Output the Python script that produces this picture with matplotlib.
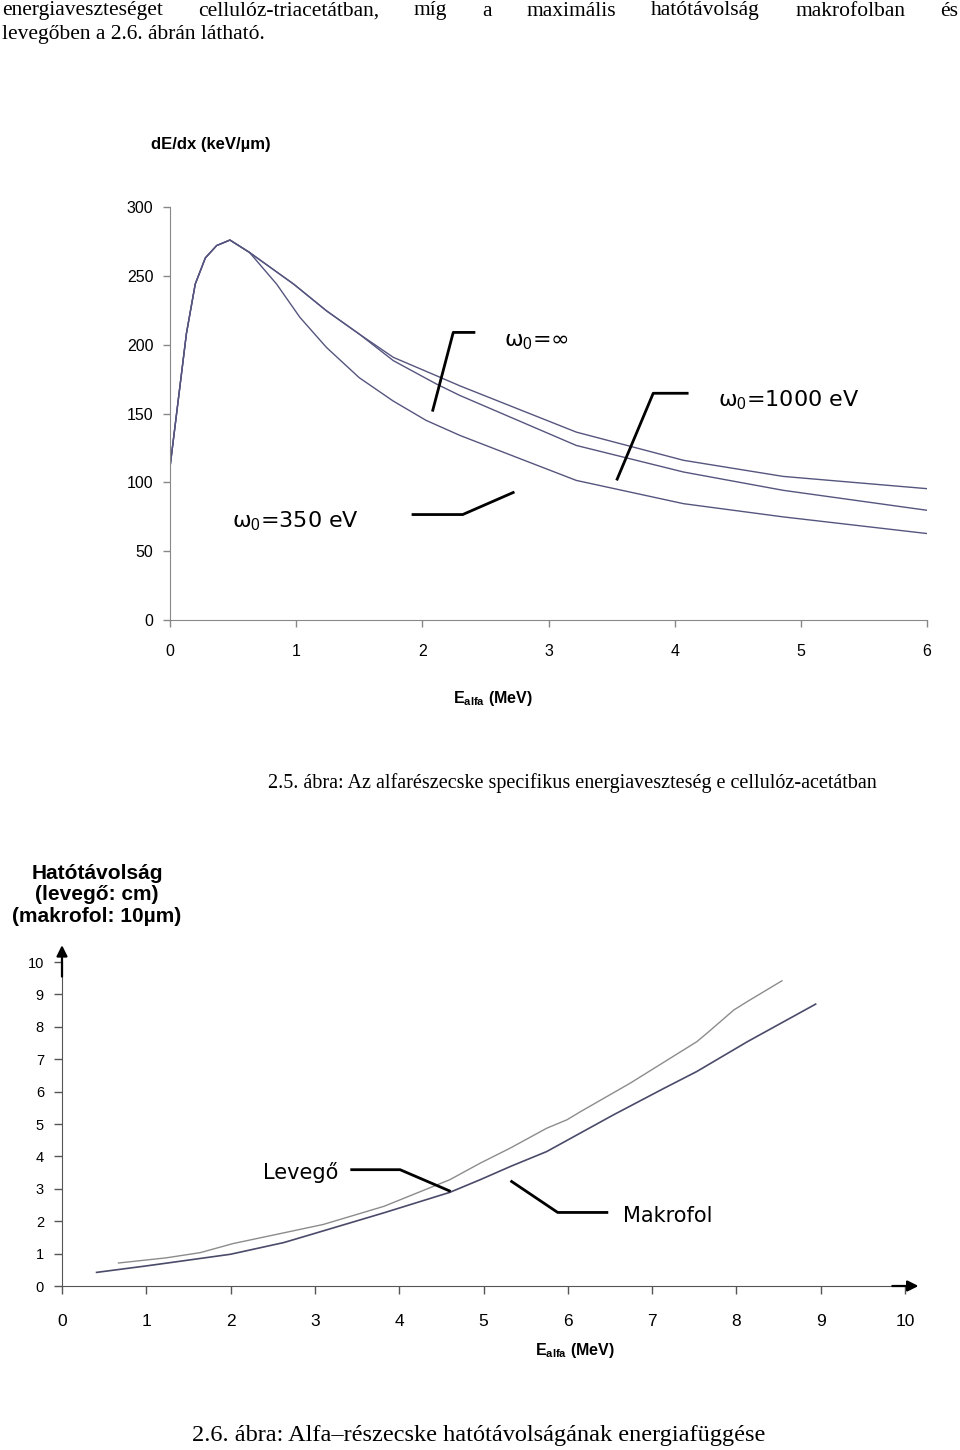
import matplotlib
matplotlib.use('Agg')
import matplotlib.pyplot as plt

plt.rcParams['font.family'] = ['Liberation Sans', 'DejaVu Sans']
plt.rcParams['mathtext.fontset'] = 'custom'
plt.rcParams['mathtext.rm'] = 'Liberation Sans'
plt.rcParams['mathtext.bf'] = 'Liberation Sans:bold'

# --- 2.5. abra: dE/dx (keV/um) vs E_alfa (MeV) ---
e_inf = [0.0, 0.13, 0.2, 0.28, 0.37, 0.475, 0.63, 0.98, 1.24, 1.5, 1.77, 2.11, 2.3, 3.22, 4.07, 4.86, 6.0]
de_inf = [111, 208, 244, 263, 272, 276, 267, 244, 224.6, 207.7, 190.8, 177.5, 170, 136.5, 116, 104.3, 95.4]
e_1000 = [0.0, 0.13, 0.2, 0.28, 0.37, 0.475, 0.63, 0.98, 1.24, 1.5, 1.77, 2.11, 2.3, 3.22, 4.07, 4.86, 6.0]
de_1000 = [111, 208, 244, 263, 272, 276, 267, 244, 224.6, 207.7, 188.4, 171.5, 163, 126.8, 107.5, 94.2, 79.7]
e_350 = [0.0, 0.13, 0.2, 0.28, 0.37, 0.475, 0.63, 0.845, 1.03, 1.24, 1.5, 1.77, 2.03, 2.3, 3.22, 4.07, 4.86, 6.0]
de_350 = [111, 208, 244, 263, 272, 276, 267, 244, 219.8, 198, 176, 159, 145, 134, 101.4, 84.5, 74.9, 62.8]
top_xticks = [0, 1, 2, 3, 4, 5, 6]
top_yticks = [0, 50, 100, 150, 200, 250, 300]

# --- 2.6. abra: hatotavolsag vs E_alfa (MeV) ---
e_levego = [0.67, 1.24, 1.64, 2.03, 2.63, 3.1, 3.82, 4.6, 4.96, 5.32, 5.75, 5.99, 6.15, 6.74, 7.53, 7.65, 7.97, 8.13, 8.54]
r_levego = [0.71, 0.87, 1.03, 1.31, 1.64, 1.9, 2.46, 3.28, 3.79, 4.26, 4.87, 5.13, 5.38, 6.26, 7.54, 7.8, 8.52, 8.78, 9.42]
e_makrofol = [0.41, 1.0, 1.28, 2.0, 2.63, 3.02, 3.82, 4.6, 4.96, 5.32, 5.75, 6.54, 7.14, 7.53, 8.13, 8.94]
r_makrofol = [0.42, 0.62, 0.72, 0.98, 1.34, 1.64, 2.26, 2.89, 3.28, 3.69, 4.15, 5.28, 6.1, 6.62, 7.54, 8.7]
bot_ticks = list(range(11))

line1 = "energiaveszteséget cellulóz-triacetátban, míg a maximális hatótávolság makrofolban és"
line2 = "levegőben a 2.6. ábrán látható."
cap1 = "2.5. ábra: Az alfarészecske specifikus energiaveszteség e cellulóz-acetátban"
cap2 = "2.6. ábra: Alfa–részecske hatótávolságának energiafüggése"

fig = plt.figure(figsize=(9.6, 14.5), dpi=100)
serif = 'Liberation Serif'
grey = '#888888'

# page text, first line justified
fig.canvas.draw()
r = fig.canvas.get_renderer()
words = line1.split()
tw = [fig.text(0, 1 - 11 / 1450, w, family=serif, fontsize=15.5, va='center') for w in words]
widths = [t.get_window_extent(r).width for t in tw]
gap = (956 - sum(widths)) / (len(words) - 1)
x = 2
for t, w in zip(tw, widths):
    t.set_x(x / 960)
    x += w + gap
fig.text(2 / 960, 1 - 34 / 1450, line2, family=serif, fontsize=15.5, va='center')
fig.text(572 / 960, 1 - 783 / 1450, cap1, family=serif, fontsize=14.5, ha='center', va='center')
fig.text(479 / 960, 1 - 1436 / 1450, cap2, family=serif, fontsize=17.5, ha='center', va='center')

# ---------- top chart ----------
ax1 = fig.add_axes([170 / 960, 1 - 620 / 1450, 757 / 960, 413 / 1450])
c = '#55557f'
ax1.plot(e_inf, de_inf, color=c, lw=1.0)
ax1.plot(e_1000, de_1000, color=c, lw=1.0)
ax1.plot(e_350, de_350, color=c, lw=1.0)
ax1.set_xlim(0, 6)
ax1.set_ylim(0, 300)
ax1.set_xticks(top_xticks)
ax1.set_yticks(top_yticks)
for s in ['top', 'right']:
    ax1.spines[s].set_visible(False)
for s in ['left', 'bottom']:
    ax1.spines[s].set_color(grey)
ax1.tick_params(colors=grey, labelcolor='black', labelsize=11.5, length=5, width=1)
ax1.tick_params(axis='x', pad=12)
ax1.tick_params(axis='y', pad=7)
fig.text(211 / 960, 1 - 145 / 1450, 'dE/dx (keV/µm)', fontsize=12, fontweight='bold', ha='center', va='center')
fig.text(493 / 960, 1 - 698 / 1450, r'$\mathbf{E}_{\mathbf{alfa}}$ (MeV)', fontsize=11.5,
         fontweight='bold', ha='center', va='center')

# leader lines + labels
lk = dict(color='black', lw=2, solid_capstyle='butt')
ax1.plot([2.08, 2.245, 2.42], [151.4, 208.9, 208.9], **lk)
ax1.plot([3.54, 3.83, 4.11], [101.4, 164.7, 164.7], **lk)
ax1.plot([1.915, 2.32, 2.73], [76.6, 76.6, 93.0], **lk)
ann = dict(family='DejaVu Sans', fontsize=16, va='center')
ax1.text(2.65, 202, r'ω$_0$=∞', **ann)
ax1.text(4.34, 160, r'ω$_0$=1000 eV', **ann)
ax1.text(0.49, 71.7, r'ω$_0$=350 eV', **ann)

# ---------- bottom chart ----------
ax2 = fig.add_axes([62 / 960, 1 - 1286 / 1450, 843 / 960, 324 / 1450])
ax2.plot(e_levego, r_levego, color='#8c8c8c', lw=1.0)
ax2.plot(e_makrofol, r_makrofol, color='#4a4a6a', lw=1.2)
ax2.set_xlim(0, 10)
ax2.set_ylim(0, 10)
ax2.set_xticks(bot_ticks)
ax2.set_yticks(bot_ticks)
for s in ['top', 'right']:
    ax2.spines[s].set_visible(False)
for s in ['left', 'bottom']:
    ax2.spines[s].set_color('#555555')
ax2.tick_params(colors='#555555', labelcolor='black', length=6, width=1)
ax2.tick_params(axis='x', labelsize=12.5, pad=14)
ax2.tick_params(axis='y', labelsize=10.5, pad=7)
arw = dict(arrowstyle='-|>', color='black', lw=1.6, mutation_scale=16, shrinkA=0, shrinkB=0)
ax2.annotate('', xy=(1.016, 0), xytext=(0.985, 0), xycoords='axes fraction', arrowprops=arw)
ax2.annotate('', xy=(0, 1.052), xytext=(0, 0.955), xycoords='axes fraction', arrowprops=arw)

ax2.plot([3.42, 4.01, 4.61], [3.59, 3.59, 2.92], **lk)
ax2.plot([5.32, 5.88, 6.48], [3.25, 2.27, 2.27], **lk)
ann2 = dict(family='DejaVu Sans', fontsize=15, va='center')
ax2.text(2.38, 3.5, 'Levegő', **ann2)
ax2.text(6.65, 2.17, 'Makrofol', **ann2)

fig.text(97 / 960, 1 - 895 / 1450, 'Hatótávolság\n(levegő: cm)\n(makrofol: 10µm)', fontsize=15,
         fontweight='bold', ha='center', va='center', linespacing=1.15)
fig.text(575 / 960, 1 - 1350 / 1450, r'$\mathbf{E}_{\mathbf{alfa}}$ (MeV)', fontsize=11.5,
         fontweight='bold', ha='center', va='center')

fig.savefig('out.png', dpi=100)
